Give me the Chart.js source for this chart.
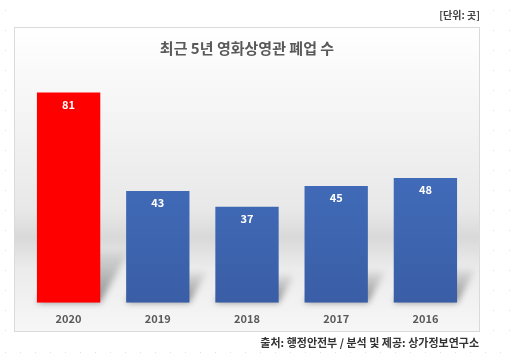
<!DOCTYPE html>
<html><head><meta charset="utf-8">
<script src="https://cdn.jsdelivr.net/npm/chart.js@4.4.1/dist/chart.umd.min.js"></script>
<style>html,body{margin:0;padding:0;background:#fff;}#wrap{width:512px;height:358px;}</style>
</head><body><div id="wrap"><canvas id="c" width="512" height="358"></canvas></div>
<script>
const categories = ['2020', '2019', '2018', '2017', '2016'];
const closures = [81, 43, 37, 45, 48];
const highlightYear = '2020';
const titleText = '최근 5년 영화상영관 폐업 수';
const unitText = '[단위: 곳]';
const sourceText = '출처: 행정안전부 / 분석 및 제공: 상가정보연구소';

const FONT = '"Noto Sans CJK KR", "Noto Sans", sans-serif';
const FRAME = {x: 14, y: 27, w: 466, h: 305};

const bgPlugin = {
  id: 'bg',
  beforeDraw(chart) {
    const ctx = chart.ctx;
    ctx.save();
    ctx.fillStyle = '#ffffff';
    ctx.fillRect(0, 0, chart.width, chart.height);
    ctx.fillStyle = '#e2e2e2';
    for (let y = 10; y < 340; y += 20) {
      ctx.fillRect(5, y, 1, 1);
      ctx.fillRect(493, y, 1, 1);
      ctx.fillRect(509, y, 1, 1);
    }
    for (let x = 5; x < 512; x += 15) ctx.fillRect(x, 352, 1, 1);
    const g = ctx.createLinearGradient(0, FRAME.y, 0, FRAME.y + FRAME.h);
    g.addColorStop(0, '#ffffff');
    g.addColorStop(0.3, '#f4f4f4');
    g.addColorStop(0.6, '#e8e8e8');
    g.addColorStop(0.69, '#d9d9d9');
    g.addColorStop(0.79, '#ebebeb');
    g.addColorStop(1, '#f7f7f7');
    ctx.fillStyle = g;
    ctx.fillRect(FRAME.x, FRAME.y, FRAME.w, FRAME.h);
    ctx.strokeStyle = '#dadada';
    ctx.lineWidth = 1;
    ctx.strokeRect(FRAME.x + 0.5, FRAME.y + 0.5, FRAME.w - 1, FRAME.h - 1);
    ctx.restore();
  },
  beforeDatasetsDraw(chart) {
    const ctx = chart.ctx;
    const meta = chart.getDatasetMeta(0);
    ctx.save();
    ctx.filter = 'blur(3px)';
    meta.data.forEach(el => {
      const p = el.getProps(['x', 'y', 'base', 'width'], true);
      const left = p.x - p.width / 2, right = p.x + p.width / 2;
      const barH = p.base - p.y;
      const h = 0.2 * barH + 8, dx = 0.55 * h;
      const g = ctx.createLinearGradient(0, p.base, 0, p.base - h);
      g.addColorStop(0, 'rgba(0,0,0,0.42)');
      g.addColorStop(1, 'rgba(0,0,0,0.06)');
      ctx.fillStyle = g;
      ctx.beginPath();
      ctx.moveTo(left, p.base);
      ctx.lineTo(right, p.base);
      ctx.lineTo(right + dx, p.base - h);
      ctx.lineTo(left + dx, p.base - h);
      ctx.closePath();
      ctx.fill();
    });
    ctx.restore();
  },
  afterDatasetsDraw(chart) {
    const ctx = chart.ctx;
    const meta = chart.getDatasetMeta(0);
    ctx.save();
    ctx.fillStyle = '#ffffff';
    ctx.font = 'bold 11px ' + FONT;
    ctx.textAlign = 'center';
    ctx.textBaseline = 'middle';
    meta.data.forEach((el, i) => {
      ctx.fillText(String(chart.data.datasets[0].data[i]), el.x, el.y + 12);
    });
    ctx.restore();
  },
  afterDraw(chart) {
    const ctx = chart.ctx;
    ctx.save();
    ctx.textAlign = 'right';
    ctx.textBaseline = 'middle';
    ctx.fillStyle = '#404040';
    ctx.font = 'bold 10px ' + FONT;
    ctx.fillText(unitText, 480, 15);
    ctx.fillStyle = '#333333';
    ctx.font = 'bold 11px ' + FONT;
    ctx.fillText(sourceText, 479, 343);
    ctx.restore();
  }
};

new Chart(document.getElementById('c'), {
  type: 'bar',
  data: {
    labels: categories,
    datasets: [{
      data: closures,
      backgroundColor(ctx) {
        if (categories[ctx.dataIndex] === highlightYear) return '#ff0000';
        const a = ctx.chart.chartArea;
        if (!a) return '#4169b8';
        const g = ctx.chart.ctx.createLinearGradient(0, a.top, 0, a.bottom);
        g.addColorStop(0, '#4676c8');
        g.addColorStop(1, '#3a5ea6');
        return g;
      },
      borderWidth: 0,
      barPercentage: 0.71,
      categoryPercentage: 1.0
    }]
  },
  options: {
    responsive: false,
    animation: false,
    devicePixelRatio: 1,
    layout: {padding: {left: 24, right: 42, top: 0, bottom: 24}},
    plugins: {
      legend: {display: false},
      tooltip: {enabled: false},
      title: {
        display: true,
        text: titleText,
        color: '#595959',
        font: {family: FONT, size: 15, weight: 'bold', lineHeight: 1.2},
        padding: {top: 39, bottom: 12}
      }
    },
    scales: {
      x: {
        grid: {display: false, drawTicks: false},
        border: {display: false},
        ticks: {color: '#595959', font: {family: FONT, size: 11, weight: 'bold'}, padding: 9}
      },
      y: {display: false, min: 0, max: 90}
    }
  },
  plugins: [bgPlugin]
});
</script></body></html>
